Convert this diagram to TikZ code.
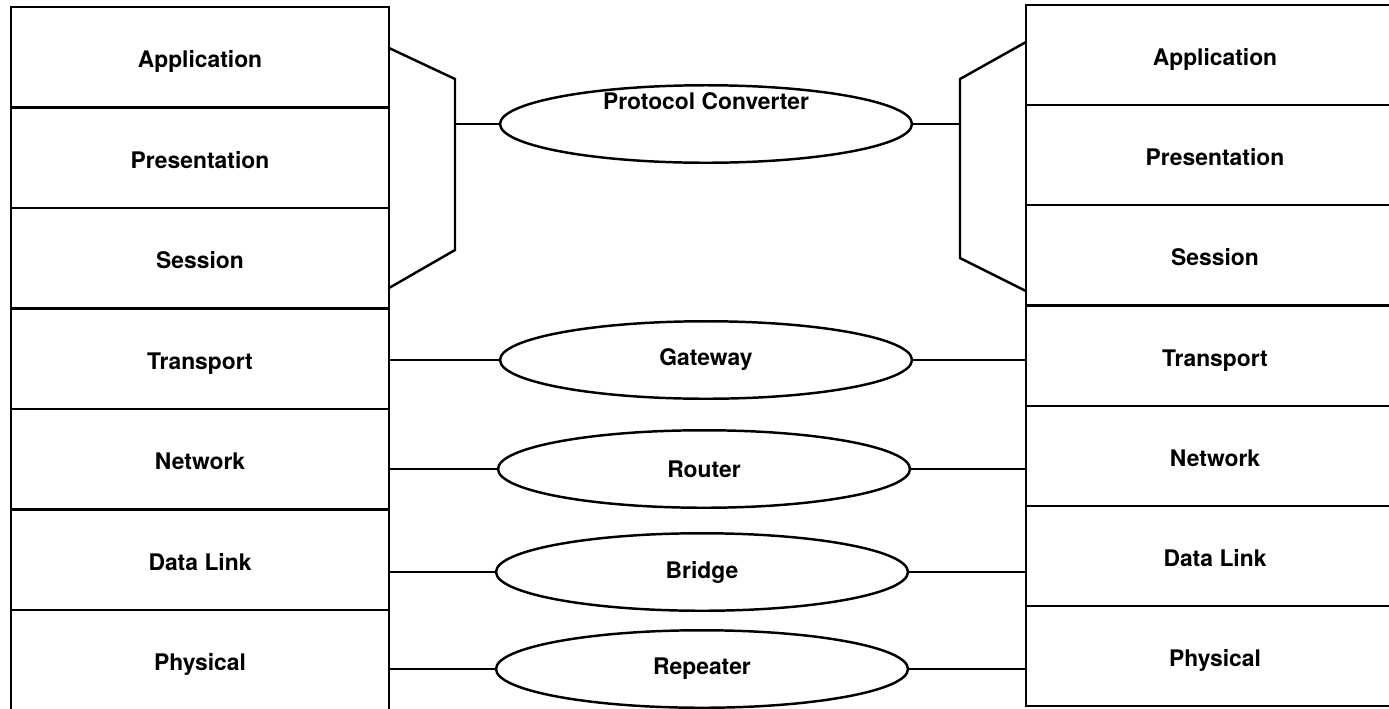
\documentclass[tikz,border=0pt]{standalone}
\usepackage{fontspec}
\setmainfont{TeX Gyre Heros}
\usetikzlibrary{shapes.geometric}

\begin{document}
\begin{tikzpicture}[x=0.02cm, y=-0.02cm,
    layerStyle/.style={rectangle, draw, line width=1pt, minimum width=7.56cm, minimum height=2.01cm, inner sep=0pt, text height=1.16em, text depth=0pt, font=\bfseries\fontsize{13}{15}\selectfont},
    deviceStyle/.style={ellipse, draw, line width=1.4pt, minimum width=8.24cm, minimum height=1.55cm, inner sep=0pt, font=\bfseries\fontsize{13}{15}\selectfont},
    linkStyle/.style={line width=1pt},
    bracketStyle/.style={line width=1.4pt, line join=miter}]
    \useasboundingbox (0,0) rectangle (1389,708);

    \node[layerStyle] (L_app)   at (200,  57) {Application};
    \node[layerStyle] (L_pres)  at (200, 158) {Presentation};
    \node[layerStyle] (L_sess)  at (200, 258) {Session};
    \node[layerStyle] (L_trans) at (200, 359) {Transport};
    \node[layerStyle] (L_net)   at (200, 459) {Network};
    \node[layerStyle] (L_link)  at (200, 560) {Data Link};
    \node[layerStyle] (L_phys)  at (200, 660) {Physical};

    \node[layerStyle] (R_app)   at (1215,  55) {Application};
    \node[layerStyle] (R_pres)  at (1215, 155) {Presentation};
    \node[layerStyle] (R_sess)  at (1215, 255) {Session};
    \node[layerStyle] (R_trans) at (1215, 356) {Transport};
    \node[layerStyle] (R_net)   at (1215, 456) {Network};
    \node[layerStyle] (R_link)  at (1215, 556) {Data Link};
    \node[layerStyle] (R_phys)  at (1215, 656) {Physical};

    \node[deviceStyle, label={[yshift=0.46cm, font=\bfseries\fontsize{13}{15}\selectfont]center:Protocol Converter}] (conv) at (706, 124) {};
    \node[deviceStyle] (gw)     at (706, 360) {Gateway};
    \node[deviceStyle] (router) at (704, 469) {Router};
    \node[deviceStyle] (bridge) at (702, 572) {Bridge};
    \node[deviceStyle] (rep)    at (702, 669) {Repeater};

    \coordinate (lbr) at (455, 124);
    \coordinate (rbr) at (960, 124);
    \draw[bracketStyle] (389, 48) -- (455, 79) -- (455, 250) -- (389, 288);
    \draw[bracketStyle] (1026, 42) -- (960, 79) -- (960, 258) -- (1026, 291);

    \draw[linkStyle] (lbr) -- (conv.west);
    \draw[linkStyle] (conv.east) -- (rbr);
    \draw[linkStyle] (L_trans.east |- gw.west) -- (gw.west);
    \draw[linkStyle] (gw.east) -- (R_trans.west |- gw.east);
    \draw[linkStyle] (L_net.east |- router.west) -- (router.west);
    \draw[linkStyle] (router.east) -- (R_net.west |- router.east);
    \draw[linkStyle] (L_link.east |- bridge.west) -- (bridge.west);
    \draw[linkStyle] (bridge.east) -- (R_link.west |- bridge.east);
    \draw[linkStyle] (L_phys.east |- rep.west) -- (rep.west);
    \draw[linkStyle] (rep.east) -- (R_phys.west |- rep.east);
\end{tikzpicture}
\end{document}
